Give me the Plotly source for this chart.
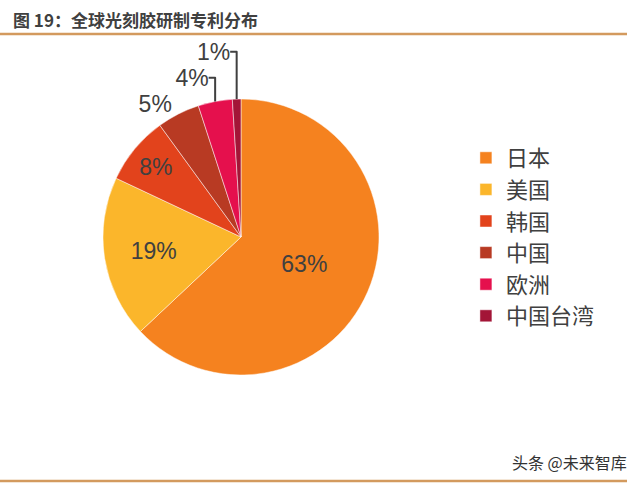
import plotly.graph_objects as go

labels = ["日本", "美国", "韩国", "中国", "欧洲", "中国台湾"]
values = [63, 19, 8, 5, 4, 1]
colors = ["#F5821F", "#FBB62B", "#E2431C", "#B83A23", "#E5104D", "#A31537"]
text_positions = ["inside", "inside", "inside", "outside", "outside", "outside"]

W, H = 640, 484
cx, cy, r = 241, 237, 138

fig = go.Figure(go.Pie(
    labels=labels, values=values, sort=False, direction="clockwise", rotation=0,
    marker=dict(colors=colors, line=dict(color="rgba(255,255,255,0.6)", width=0.8)),
    texttemplate="%{value}%", textposition=text_positions,
    insidetextorientation="horizontal",
    textfont=dict(family="Liberation Sans, Arial", size=23, color="#404040"),
    domain=dict(x=[(cx - r) / W, (cx + r) / W], y=[(H - cy - r) / H, (H - cy + r) / H]),
    hoverinfo="label+percent", showlegend=True,
))

fig.update_layout(
    width=W, height=H, margin=dict(l=0, r=0, t=0, b=0),
    paper_bgcolor="white", plot_bgcolor="white",
    legend=dict(x=0.728, y=0.5 + 0.5 * (484 - 2 * 237) / 484, xanchor="left", yanchor="middle",
                font=dict(family="Noto Sans CJK SC", size=22, color="#404040"),
                bgcolor="rgba(0,0,0,0)"),
    annotations=[
        dict(text="<b>图 19：全球光刻胶研制专利分布</b>", xref="paper", yref="paper",
             x=11 / W, y=1 - 19 / H, xanchor="left", yanchor="middle", showarrow=False,
             font=dict(family="Noto Sans CJK SC", size=17, color="#404040")),
        dict(text="头条 @未来智库", xref="paper", yref="paper",
             x=629 / W, y=1 - 462 / H, xanchor="right", yanchor="middle", showarrow=False,
             font=dict(family="Noto Sans CJK SC", size=16, color="#333333")),
    ],
    shapes=[
        dict(type="line", xref="paper", yref="paper", x0=0, x1=627 / W,
             y0=1 - 34 / H, y1=1 - 34 / H, line=dict(color="#D39A5E", width=2.5)),
        dict(type="line", xref="paper", yref="paper", x0=0, x1=627 / W,
             y0=1 - 481 / H, y1=1 - 481 / H, line=dict(color="#D39A5E", width=2.5)),
    ],
)

fig.write_html("out.html")
